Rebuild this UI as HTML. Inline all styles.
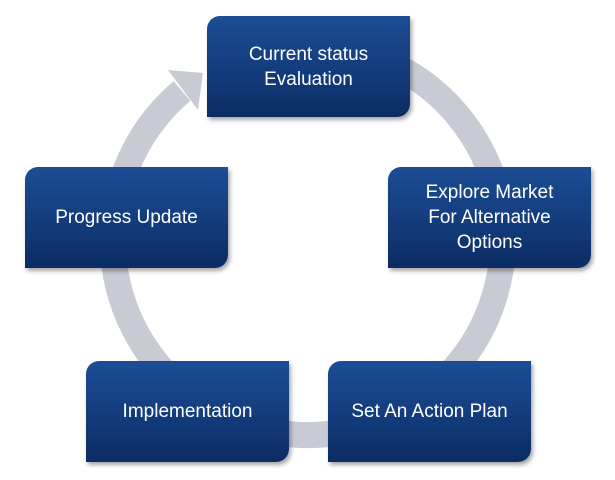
<!DOCTYPE html>
<html><head><meta charset="utf-8"><style>
body{margin:0;width:615px;height:480px;background:#fff;position:relative;overflow:hidden;font-family:"Liberation Sans",sans-serif}
svg{position:absolute;left:0;top:0}
.b{position:absolute;width:203px;height:101px;border-radius:13px 0 13px 0;background:linear-gradient(#1c4d94,#123a7a 60%,#0c2c62);box-shadow:2px 3px 4px rgba(0,0,0,.35);color:#fff;font-size:19px;line-height:25px;display:flex;align-items:center;justify-content:center;text-align:center}
</style></head><body>
<svg width="615" height="480">
<path d="M182 91 A195 195 0 1 0 307 45" fill="none" stroke="#c9cbd4" stroke-width="26"/>
<polygon points="168,70 203,73 198,110" fill="#c9cbd4"/>
</svg>
<div class="b" style="left:207px;top:16px">Current status<br>Evaluation</div>
<div class="b" style="left:388px;top:167px">Explore Market<br>For Alternative<br>Options</div>
<div class="b" style="left:328px;top:361px">Set An Action Plan</div>
<div class="b" style="left:86px;top:361px">Implementation</div>
<div class="b" style="left:25px;top:167px">Progress Update</div>
</body></html>
